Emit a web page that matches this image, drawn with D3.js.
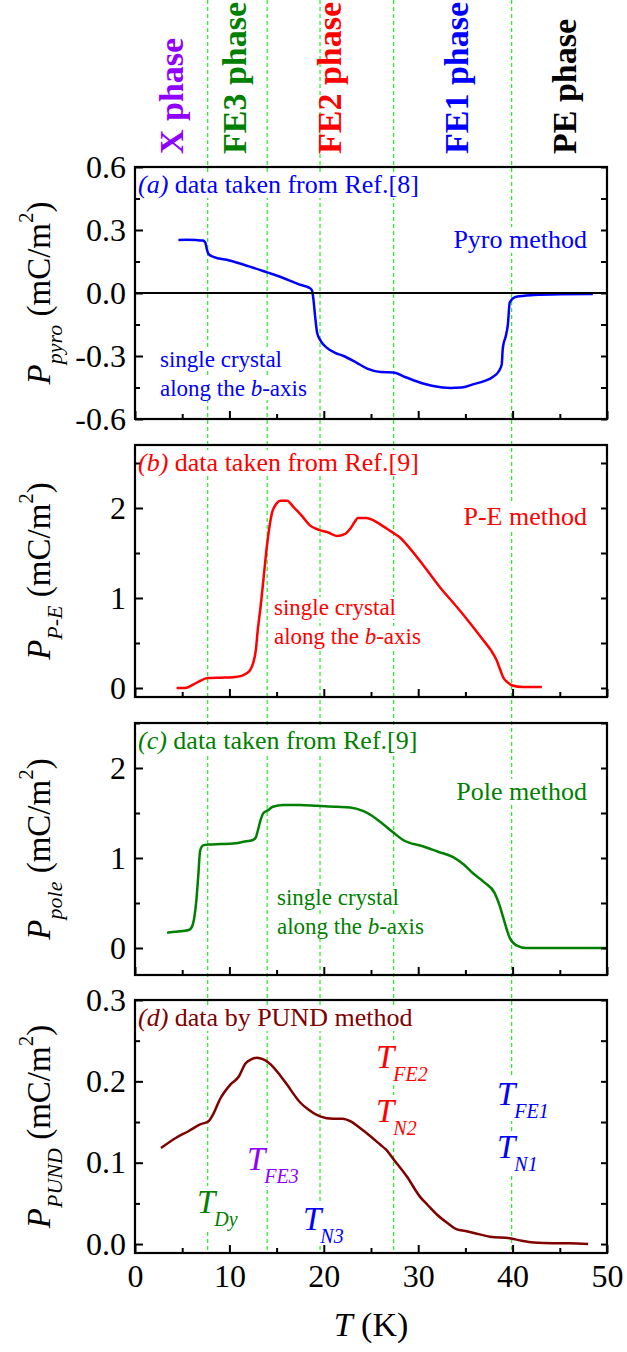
<!DOCTYPE html>
<html><head><meta charset="utf-8">
<script src="https://cdn.jsdelivr.net/npm/d3@7"></script>
<style>
body{margin:0;background:#fff}
svg{display:block}
svg text{font-family:"Liberation Serif","Times New Roman",serif}
</style>
</head><body><svg id="c" width="627" height="1352"></svg>
<script>
// ---------------- DATA ----------------
const phaseBoundsT = [7.7, 14.0, 19.6, 27.4, 39.9];
const phaseNames = ["X phase", "FE3 phase", "FE2 phase", "FE1 phase", "PE phase"];

const xTicks = [0, 10, 20, 30, 40, 50];

// (a) pyro
const T_pyro = [4.6, 5.5, 6.5, 7.2, 7.45, 7.6, 7.8, 8.3, 10, 12, 14, 15.5, 16.8, 17.6, 18.2, 18.5, 18.75, 18.9, 19.1, 19.3, 19.7, 20.3, 21.2, 22.1, 23.4, 24.6, 26, 27.4, 28.6, 29.8, 31.6, 33.4, 34.6, 35.8, 37, 37.9, 38.5, 38.85, 38.95, 39.05, 39.25, 39.5, 39.7, 40.4, 42.2, 45, 48.5];
const P_pyro = [0.252, 0.253, 0.252, 0.25, 0.24, 0.21, 0.185, 0.172, 0.155, 0.128, 0.098, 0.075, 0.052, 0.038, 0.03, 0.024, 0.012, -0.03, -0.12, -0.19, -0.23, -0.26, -0.285, -0.30, -0.33, -0.36, -0.376, -0.378, -0.40, -0.42, -0.443, -0.452, -0.45, -0.435, -0.42, -0.40, -0.375, -0.34, -0.27, -0.24, -0.21, -0.15, -0.045, -0.018, -0.01, -0.006, -0.005];

// (b) P-E
const T_pe = [4.4, 5.3, 6.2, 6.9, 7.7, 9, 10.4, 11.3, 11.8, 12.2, 12.5, 12.8, 13.0, 13.3, 13.6, 14.0, 14.5, 15.0, 15.4, 16.1, 16.8, 17.7, 18.5, 19.4, 20.4, 21.4, 22.2, 22.8, 23.3, 23.6, 24.5, 25.3, 26.1, 27.4, 28.1, 28.8, 30.5, 32.3, 34.1, 35.5, 36.9, 37.7, 38.3, 38.7, 39.0, 39.5, 39.9, 41.1, 43.1];
const P_pe = [0.0, 0.0, 0.04, 0.08, 0.11, 0.115, 0.12, 0.135, 0.16, 0.2, 0.27, 0.42, 0.64, 0.9, 1.2, 1.6, 1.94, 2.05, 2.08, 2.08, 2.01, 1.91, 1.81, 1.76, 1.73, 1.69, 1.71, 1.77, 1.85, 1.89, 1.89, 1.86, 1.81, 1.72, 1.67, 1.59, 1.37, 1.12, 0.9, 0.72, 0.53, 0.42, 0.31, 0.2, 0.12, 0.06, 0.03, 0.01, 0.01];

// (c) Pole
const T_pole = [3.4, 4.2, 5.1, 5.7, 6.0, 6.3, 6.5, 6.7, 6.9, 7.2, 7.8, 9, 10.4, 11.5, 12.5, 12.8, 13.0, 13.3, 13.6, 14.1, 14.6, 15.7, 17.5, 19.3, 21.4, 22.8, 24.2, 25.1, 26, 27.4, 28.4, 30.5, 32.1, 33.7, 34.8, 35.8, 37, 38.1, 38.6, 39.0, 39.4, 39.7, 40.4, 41.5, 45, 50];
const P_pole = [0.17, 0.18, 0.19, 0.2, 0.23, 0.35, 0.53, 0.8, 1.08, 1.14, 1.15, 1.155, 1.16, 1.18, 1.2, 1.23, 1.3, 1.42, 1.5, 1.53, 1.57, 1.59, 1.59, 1.58, 1.57, 1.56, 1.52, 1.47, 1.40, 1.28, 1.20, 1.13, 1.07, 1.01, 0.93, 0.83, 0.73, 0.61, 0.48, 0.34, 0.2, 0.11, 0.03, 0.0, 0.0, 0.0];

// (d) PUND
const T_pund = [2.75, 4.4, 5.7, 6.9, 7.8, 8.3, 9.0, 10.1, 11.0, 11.7, 12.3, 12.9, 13.6, 14.7, 15.4, 16.1, 17.5, 18.4, 19.2, 19.6, 21.0, 22.0, 22.8, 23.8, 25.0, 26.0, 26.6, 27.4, 28.8, 30.2, 31.0, 32.0, 33.2, 34.1, 35.0, 35.8, 37.6, 39.7, 41.0, 42.2, 44.3, 46, 48.0];
const P_pund = [0.118, 0.131, 0.139, 0.147, 0.151, 0.16, 0.178, 0.196, 0.206, 0.222, 0.227, 0.229, 0.227, 0.217, 0.207, 0.196, 0.174, 0.165, 0.159, 0.157, 0.154, 0.154, 0.151, 0.143, 0.132, 0.122, 0.116, 0.104, 0.083, 0.058, 0.048, 0.036, 0.025, 0.018, 0.016, 0.014, 0.009, 0.007, 0.004, 0.002, 0.001, 0.001, 0.0];

const yTicksA = [-0.6, -0.3, 0.0, 0.3, 0.6];
const yTicksB = [0, 1, 2];
const yTicksC = [0, 1, 2];
const yTicksD = [0.0, 0.1, 0.2, 0.3];

// ---------------- LAYOUT ----------------
const FONT = "Liberation Serif";
const C = {purple: "#8f00ff", green: "#008000", red: "#ff0000", blue: "#0000ff", black: "#000000", dred: "#800000", dash: "#22ee22"};
const phaseColors = [C.purple, C.green, C.red, C.blue, C.black];

const svg = d3.select("#c");
const L = 135, R = 607;
const x = d3.scaleLinear().domain([0, 50]).range([L, R]);

const panels = [
  {key: "a", top: 167, bottom: 419, domain: [-0.6, 0.6], ticks: yTicksA, minor: 0.15, fmt: d => d3.format(".1f")(d).replace("\u2212", "-"), T: T_pyro, P: P_pyro, color: C.blue, sub: "pyro", method: "Pyro method", ref: "data taken from Ref.[8]", zero: true},
  {key: "b", top: 445, bottom: 697, domain: [-0.1, 2.7], ticks: yTicksB, minor: 0.5, fmt: d3.format("d"), T: T_pe, P: P_pe, color: C.red, sub: "P-E", method: "P-E method", ref: "data taken from Ref.[9]"},
  {key: "c", top: 723, bottom: 975, domain: [-0.3, 2.5], ticks: yTicksC, minor: 0.5, fmt: d3.format("d"), T: T_pole, P: P_pole, color: C.green, sub: "pole", method: "Pole method", ref: "data taken from Ref.[9]"},
  {key: "d", top: 1000, bottom: 1253, domain: [-0.011, 0.3], ticks: yTicksD, minor: 0.05, fmt: d3.format(".1f"), T: T_pund, P: P_pund, color: C.dred, sub: "PUND", ref: "data by PUND method"}
];

const gLines = svg.append("g");
const gBg = svg.append("g");
const gCurves = svg.append("g");
const gText = svg.append("g").attr("font-family", FONT);
const gAxes = svg.append("g");

function rich(g, px, py, parts, opts) {
  const t = g.append("text").attr("x", px).attr("y", py)
    .attr("font-family", FONT)
    .attr("fill", opts.color || "#000")
    .attr("font-size", opts.size || 26)
    .attr("text-anchor", opts.anchor || "start");
  if (opts.bold) t.attr("font-weight", "bold");
  if (opts.transform) t.attr("transform", opts.transform);
  let cur = 0;
  parts.forEach(p => {
    const s = t.append("tspan").text(p.t);
    const target = p.dy || 0;
    if (target !== cur) { s.attr("dy", target - cur); cur = target; }
    if (p.it) s.attr("font-style", "italic");
    if (p.size) s.attr("font-size", p.size);
    if (p.dx) s.attr("dx", p.dx);
  });
  if (opts.bg) {
    const b = t.node().getBBox();
    gBg.append("rect").attr("x", b.x - 1).attr("y", b.y + 2).attr("width", b.width + 2).attr("height", b.height - 3).attr("fill", "#fff");
  }
  return t;
}

gLines.selectAll("line").data(phaseBoundsT).join("line")
  .attr("x1", d => x(d)).attr("x2", d => x(d))
  .attr("y1", 0).attr("y2", 1253)
  .attr("stroke", C.dash).attr("stroke-width", 1.2).attr("stroke-dasharray", "4,3");

const phaseLabelX = [183, 246, 341, 468, 576];
phaseNames.forEach((n, i) => {
  rich(gText, 0, 0, [{t: n}], {color: phaseColors[i], size: 34, bold: true, transform: `translate(${phaseLabelX[i]},154) rotate(-90)`});
});

const line = d3.line().curve(d3.curveMonotoneX);

function styleAxis(g, withText) {
  g.attr("font-family", FONT);
  g.select(".domain").remove();
  g.selectAll("line").attr("stroke-width", 2);
  if (withText) g.selectAll("text").attr("font-size", 32).attr("font-family", FONT).attr("fill", "#000");
}

panels.forEach((p, pi) => {
  const y = d3.scaleLinear().domain(p.domain).range([p.bottom, p.top]);
  if (p.zero) {
    gAxes.append("line").attr("x1", L).attr("x2", R).attr("y1", y(0)).attr("y2", y(0)).attr("stroke", "#000").attr("stroke-width", 2);
  }
  gCurves.append("path")
    .attr("d", line.x((d, i) => x(p.T[i])).y((d, i) => y(p.P[i]))(p.P))
    .attr("fill", "none").attr("stroke", p.color).attr("stroke-width", 2.5).attr("stroke-linejoin", "round");

  const minorY = d3.range(Math.ceil(p.domain[0] / p.minor) * p.minor, p.domain[1] + 1e-9, p.minor)
    .map(v => +v.toFixed(4)).filter(v => !p.ticks.some(t => Math.abs(t - v) < 1e-6));

  styleAxis(gAxes.append("g").attr("transform", `translate(${L},0)`)
    .call(d3.axisLeft(y).tickValues(p.ticks).tickSize(-8).tickPadding(9).tickFormat(p.fmt)), true);
  styleAxis(gAxes.append("g").attr("transform", `translate(${L},0)`)
    .call(d3.axisLeft(y).tickValues(minorY).tickSize(-5).tickFormat("")), false);
  styleAxis(gAxes.append("g").attr("transform", `translate(${R},0)`)
    .call(d3.axisRight(y).tickValues(p.ticks.concat(minorY)).tickSize(-6).tickFormat("")), false);
  styleAxis(gAxes.append("g").attr("transform", `translate(0,${p.bottom})`)
    .call(d3.axisBottom(x).tickValues(xTicks).tickSize(-8).tickPadding(11).tickFormat(pi === 3 ? d3.format("d") : "")), true);
  styleAxis(gAxes.append("g").attr("transform", `translate(0,${p.bottom})`)
    .call(d3.axisBottom(x).tickValues([5, 15, 25, 35, 45]).tickSize(-5).tickFormat("")), false);

  gAxes.append("rect").attr("x", L).attr("y", p.top).attr("width", R - L).attr("height", p.bottom - p.top)
    .attr("fill", "none").attr("stroke", "#000").attr("stroke-width", 2.2);

  const cy = (p.top + p.bottom) / 2;
  rich(gText, 0, 0, [
    {t: "P", it: true},
    {t: p.sub, it: true, size: 22, dy: 12},
    {t: " (mC/m", dy: 0},
    {t: "2", size: 21, dy: -17},
    {t: ")", dy: 0}
  ], {size: 33, anchor: "middle", transform: `translate(50,${cy}) rotate(-90)`});

  rich(gText, 138, p.top + 26, [{t: "(" + p.key + ")", it: true}, {t: " " + p.ref}], {color: p.color, size: 26, bg: true});
  if (p.method) {
    rich(gText, 587, p.top + 81 - (pi === 1 ? 1 : 0) - (pi === 2 ? 4 : 0), [{t: p.method}], {color: p.color, size: 26, anchor: "end", bg: true});
  }
});

const noteX = [160, 274, 277];
const noteY = [367, 615, 905];
[0, 1, 2].forEach(i => {
  const p = panels[i];
  rich(gText, noteX[i], noteY[i], [{t: "single crystal"}], {color: p.color, size: 23, bg: true});
  rich(gText, noteX[i], noteY[i] + 29, [{t: "along the "}, {t: "b", it: true}, {t: "-axis"}], {color: p.color, size: 23, bg: true});
});

const tLabels = [
  {sub: "Dy", x: 197, y: 1213, c: C.green},
  {sub: "FE3", x: 247, y: 1170, c: C.purple},
  {sub: "N3", x: 303, y: 1230, c: C.blue},
  {sub: "FE2", x: 376, y: 1068, c: C.red},
  {sub: "N2", x: 376, y: 1122, c: C.red},
  {sub: "FE1", x: 497, y: 1105, c: C.blue},
  {sub: "N1", x: 497, y: 1158, c: C.blue}
];
tLabels.forEach(l => {
  rich(gText, l.x, l.y, [{t: "T", it: true}, {t: l.sub, it: true, size: 20, dy: 13, dx: -1}], {color: l.c, size: 33, bg: true});
});

rich(gText, (L + R) / 2, 1336, [{t: "T", it: true}, {t: " (K)"}], {size: 34, anchor: "middle"});
</script>
</body></html>
